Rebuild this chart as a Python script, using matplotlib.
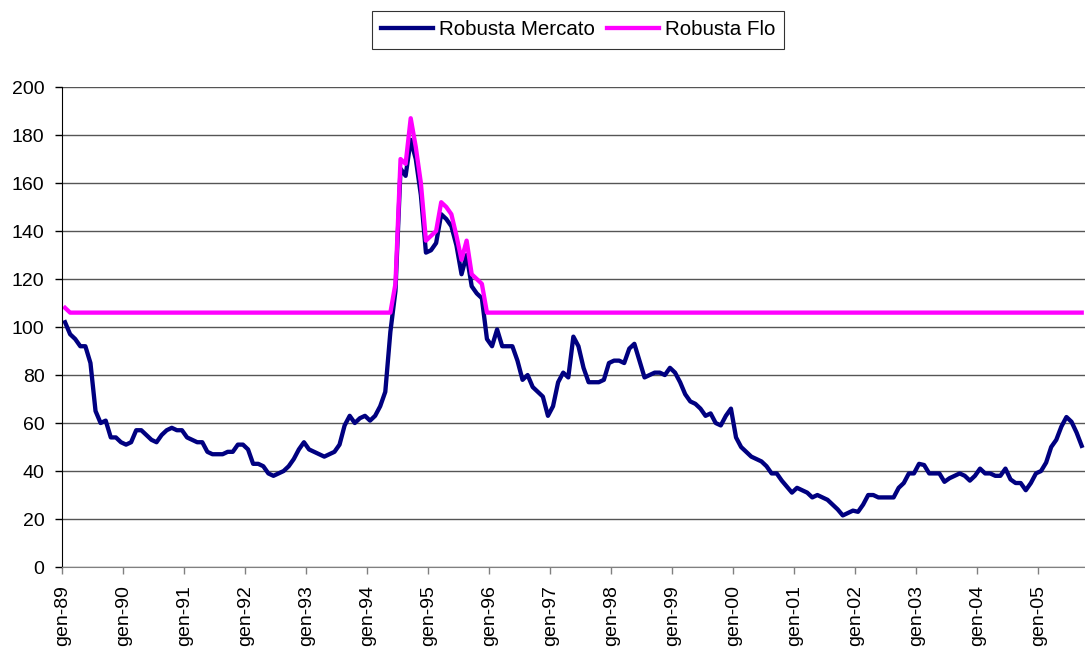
import numpy as np
import matplotlib
matplotlib.use("Agg")
import matplotlib.pyplot as plt

plt.rcParams["font.family"] = ["Liberation Sans", "DejaVu Sans"]

# Monthly prices, gen-89 .. set-05 (one row per year)
mercato = [
    102, 97, 95, 92, 92, 85, 65, 60, 61, 54, 54, 52,
    51, 52, 57, 57, 55, 53, 52, 55, 57, 58, 57, 57,
    54, 53, 52, 52, 48, 47, 47, 47, 48, 48, 51, 51,
    49, 43, 43, 42, 39, 38, 39, 40, 42, 45, 49, 52,
    49, 48, 47, 46, 47, 48, 51, 59, 63, 60, 62, 63,
    61, 63, 67, 73, 98, 115, 166, 163, 178, 170, 155, 131,
    132, 135, 147, 145, 142, 134, 122, 130, 117, 114, 112, 95,
    92, 99, 92, 92, 92, 86, 78, 80, 75, 73, 71, 63,
    67, 77, 81, 79, 96, 92, 83, 77, 77, 77, 78, 85,
    86, 86, 85, 91, 93, 86, 79, 80, 81, 81, 80, 83,
    81, 77, 72, 69, 68, 66, 63, 64, 60, 59, 63, 66,
    54, 50, 48, 46, 45, 44, 42, 39, 39, 36, 33.5, 31,
    33, 32, 31, 29, 30, 29, 28, 26, 24, 21.5, 22.5, 23.5,
    23, 26, 30, 30, 29, 29, 29, 29, 33, 35, 39, 39,
    43, 42.5, 39, 39, 39, 35.5, 37, 38, 39, 38, 36, 38,
    41, 39, 39, 38, 38, 41, 36.5, 35, 35, 32, 35, 39,
    40, 43.5, 50, 53, 58.5, 62.5, 60.5, 56, 50.5,
]

flo = [
    108, 106, 106, 106, 106, 106, 106, 106, 106, 106, 106, 106,
    106, 106, 106, 106, 106, 106, 106, 106, 106, 106, 106, 106,
    106, 106, 106, 106, 106, 106, 106, 106, 106, 106, 106, 106,
    106, 106, 106, 106, 106, 106, 106, 106, 106, 106, 106, 106,
    106, 106, 106, 106, 106, 106, 106, 106, 106, 106, 106, 106,
    106, 106, 106, 106, 106, 118, 170, 168, 187, 175, 160, 136,
    138, 140, 152, 150, 147, 138, 128, 136, 122, 120, 118, 106,
    106, 106, 106, 106, 106, 106, 106, 106, 106, 106, 106, 106,
    106, 106, 106, 106, 106, 106, 106, 106, 106, 106, 106, 106,
    106, 106, 106, 106, 106, 106, 106, 106, 106, 106, 106, 106,
    106, 106, 106, 106, 106, 106, 106, 106, 106, 106, 106, 106,
    106, 106, 106, 106, 106, 106, 106, 106, 106, 106, 106, 106,
    106, 106, 106, 106, 106, 106, 106, 106, 106, 106, 106, 106,
    106, 106, 106, 106, 106, 106, 106, 106, 106, 106, 106, 106,
    106, 106, 106, 106, 106, 106, 106, 106, 106, 106, 106, 106,
    106, 106, 106, 106, 106, 106, 106, 106, 106, 106, 106, 106,
    106, 106, 106, 106, 106, 106, 106, 106, 106,
]

year_labels = ["gen-89", "gen-90", "gen-91", "gen-92", "gen-93", "gen-94",
               "gen-95", "gen-96", "gen-97", "gen-98", "gen-99", "gen-00",
               "gen-01", "gen-02", "gen-03", "gen-04", "gen-05"]

months = np.arange(len(mercato))

fig = plt.figure(figsize=(10.85, 6.51), dpi=100)
ax = fig.add_axes([0.0576, 0.129, 0.9424, 0.7373])

ax.plot(months, mercato, color="#000080", lw=3.1, label="Robusta Mercato",
        solid_joinstyle="round")
ax.plot(months, flo, color="#FF00FF", lw=3.1, label="Robusta Flo",
        solid_joinstyle="round")

ax.set_ylim(0, 200)
ax.set_yticks(range(0, 201, 20))
ax.set_xlim(-0.5, 200.65)
# category axis: year ticks sit on the month boundaries
ax.set_xticks(np.arange(len(year_labels)) * 12 - 0.5)
ax.set_xticklabels(year_labels, rotation=90)
ax.tick_params(axis="both", labelsize=14, length=5, width=1, pad=8,
               direction="out")
ax.tick_params(axis="x", color="#808080")

ax.yaxis.grid(True, color="#555555", lw=1)
ax.set_axisbelow(True)
ax.spines["top"].set_visible(False)
ax.spines["right"].set_visible(False)
ax.spines["bottom"].set_color("#808080")
ax.spines["left"].set_color("black")

leg = fig.legend(loc="center", bbox_to_anchor=(0.533, 0.954), ncol=2,
                 frameon=True, fancybox=False, edgecolor="black",
                 handlelength=2.5, handletextpad=0.3, columnspacing=0.6,
                 borderpad=0.45, fontsize=14.8)
leg.get_frame().set_linewidth(0.8)

fig.savefig("out.png", dpi=100)
